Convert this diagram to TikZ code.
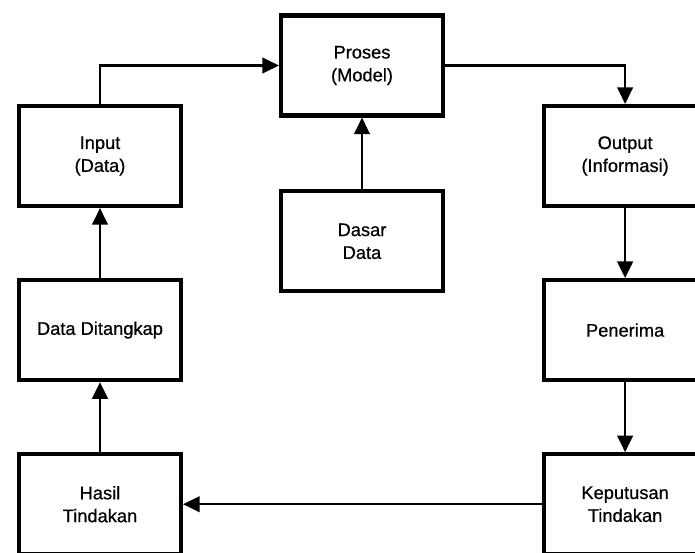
\documentclass[tikz,border=0pt]{standalone}
\usepackage{fontspec}
\setsansfont{Liberation Sans}[UprightFeatures={FakeBold=0.6}]
\usetikzlibrary{arrows.meta, positioning}

\begin{document}
\begin{tikzpicture}[
    x=0.03cm, y=-0.03cm,
    node distance=2.1cm,
    font=\sffamily\fontsize{15.6}{19.5}\selectfont,
    % Styles
    block/.style={rectangle, line width=3.5pt, minimum width=4.86cm, minimum height=3cm, align=center, draw=black, fill=white, text=black},
    arrow/.style={line width=2pt, -{Triangle[length=0.5cm, width=0.47cm]}, color=black}
]

\useasboundingbox (0,0) rectangle (695,552);
\clip (0,0) rectangle (695,552);

% ==========================================================================================
% LEFT COLUMN
% ==========================================================================================

% Input
\node[block] (input) at (100,156) {Input\\(Data)};

% Data Ditangkap
\node[block, below=of input] (tangkap) {Data Ditangkap};

% Hasil Tindakan
\node[block, below=of tangkap] (hasil) {Hasil\\Tindakan};

% ==========================================================================================
% MIDDLE COLUMN
% ==========================================================================================

% Proses
\node[block] (proses) at (362,65.5) {Proses\\(Model)};

% Dasar Data
\node[block, below=2.15cm of proses] (dasar) {Dasar\\Data};

% ==========================================================================================
% RIGHT COLUMN
% ==========================================================================================

% Output
\node[block, right=10.77cm of input] (output) {Output\\(Informasi)};

% Penerima
\node[block, below=of output] (penerima) {Penerima};

% Keputusan Tindakan
\node[block, below=of penerima] (keputusan) {Keputusan\\Tindakan};

% Arrows
\draw[arrow] (input.north) |- (proses.west);
\draw[arrow] (dasar) -- (proses);
\draw[arrow] (proses.east) -| (output.north);
\draw[arrow] (output) -- (penerima);
\draw[arrow] (penerima) -- (keputusan);
\draw[arrow] (keputusan) -- (hasil);
\draw[arrow] (hasil) -- (tangkap);
\draw[arrow] (tangkap) -- (input);

\end{tikzpicture}
\end{document}
